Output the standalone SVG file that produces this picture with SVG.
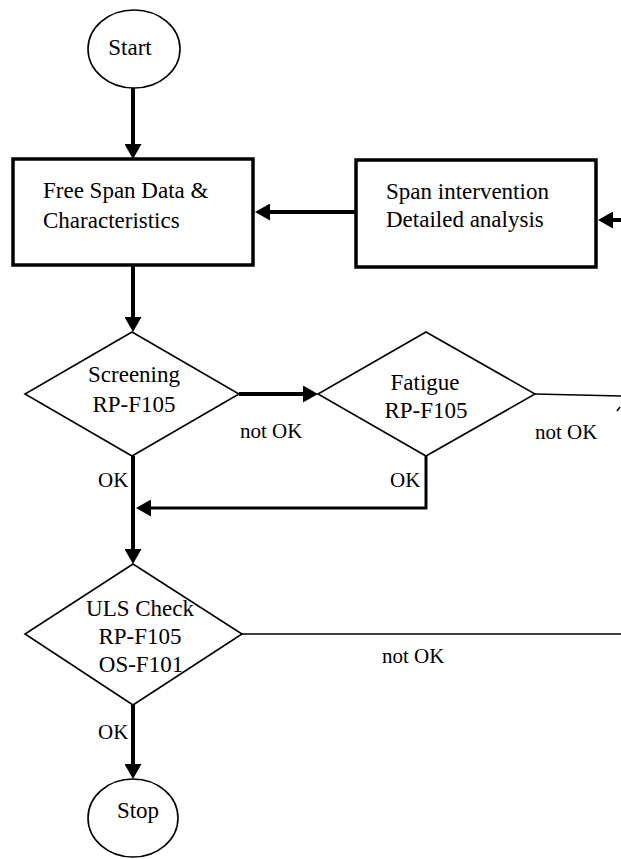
<svg xmlns="http://www.w3.org/2000/svg" width="621" height="859" viewBox="0 0 621 859">
<style>
.n{font-size:23px;font-family:"Times New Roman","Liberation Serif","DejaVu Serif",serif;fill:#000}
.l{font-size:21px;font-family:"Times New Roman","Liberation Serif","DejaVu Serif",serif;fill:#000}
.c{text-anchor:middle}
.box{fill:#fff;stroke:#000;stroke-width:3.5}
.shape{fill:#fff;stroke:#000;stroke-width:1.6}
.thick{fill:none;stroke:#000;stroke-width:4}
.mid{fill:none;stroke:#000;stroke-width:3}
.thin{fill:none;stroke:#000;stroke-width:1.6}
</style>
<defs>
<marker id="ah" viewBox="0 0 15 17" refX="3" refY="8.5" markerWidth="15" markerHeight="17" markerUnits="userSpaceOnUse" orient="auto">
<path d="M0,0 L15,8.5 L0,17 z" fill="#000"/>
</marker>
</defs>
<g id="start">
<ellipse class="shape" cx="134" cy="49" rx="46" ry="39"/>
<text class="n c" x="130" y="55">Start</text>
</g>
<g id="freespan">
<rect class="box" x="13" y="159" width="240" height="106"/>
<text class="n" x="43" y="198">Free Span Data &amp;</text>
<text class="n" x="43" y="228">Characteristics</text>
</g>
<g id="intervention">
<rect class="box" x="356" y="160" width="240" height="107"/>
<text class="n" x="386" y="199">Span intervention</text>
<text class="n" x="386" y="227">Detailed analysis</text>
</g>
<g id="screening">
<polygon class="shape" points="132,332 239,394 132,456 25,394"/>
<text class="n c" x="134" y="382">Screening</text>
<text class="n c" x="134" y="412">RP-F105</text>
</g>
<g id="fatigue">
<polygon class="shape" points="426,332 535,394 426,456 318,394"/>
<text class="n c" x="425" y="390">Fatigue</text>
<text class="n c" x="426" y="418">RP-F105</text>
</g>
<g id="uls">
<polygon class="shape" points="133,564 242,634 133,705 25,634"/>
<text class="n c" x="140" y="616">ULS Check</text>
<text class="n c" x="140" y="644">RP-F105</text>
<text class="n c" x="141" y="672">OS-F101</text>
</g>
<g id="stop">
<ellipse class="shape" cx="133" cy="818" rx="45" ry="39"/>
<text class="n c" x="138" y="818">Stop</text>
</g>
<g id="connectors">
<path class="thick" d="M133,88 V147" marker-end="url(#ah)"/>
<path class="thick" d="M356,212 H267" marker-end="url(#ah)"/>
<path class="thick" d="M621,220 H610" marker-end="url(#ah)"/>
<path class="thick" d="M133,265 V320" marker-end="url(#ah)"/>
<path class="thick" d="M239,394 H306" marker-end="url(#ah)"/>
<path class="thin" d="M535,394 L621,396"/>
<path class="thin" d="M617,411 L620,407"/>
<path class="mid" d="M426,456 V508 H148" marker-end="url(#ah)"/>
<path class="thick" d="M133,456 V552" marker-end="url(#ah)"/>
<path class="thin" d="M242,634 H621"/>
<path class="thick" d="M133,705 V767" marker-end="url(#ah)"/>
<text class="l" x="240" y="438">not OK</text>
<text class="l" x="535" y="439">not OK</text>
<text class="l" x="98" y="487">OK</text>
<text class="l" x="390" y="487">OK</text>
<text class="l" x="382" y="663">not OK</text>
<text class="l" x="98" y="739">OK</text>
</g>
</svg>
